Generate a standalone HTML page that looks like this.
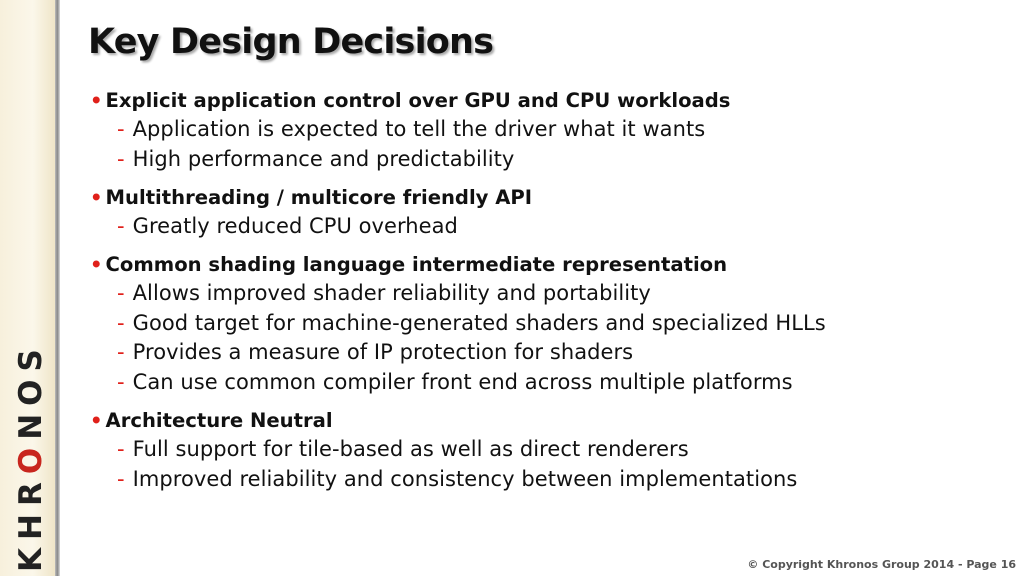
<!DOCTYPE html>
<html><head><style>
body{margin:0;width:1024px;height:576px;overflow:hidden;background:#fff;position:relative;font-family:"DejaVu Sans","Liberation Sans",sans-serif;}
#bar{position:absolute;left:0;top:0;width:55px;height:576px;background:linear-gradient(90deg,#f7f0dc,#fbf7ea 60%,#efe5c8);}
#edge{position:absolute;left:55px;top:0;width:5px;height:576px;background:linear-gradient(90deg,#bbb,#888,#ddd);}
#logo{position:absolute;left:-84px;top:437px;width:230px;height:40px;transform:rotate(-90deg);font-weight:bold;font-size:31px;color:#222;letter-spacing:8px;text-align:center;line-height:40px;}
#logo .o{color:#c8261e;}
h1{position:absolute;left:88px;top:22px;margin:0;font-size:35px;font-weight:bold;color:#111;letter-spacing:-0.8px;text-shadow:2px 2px 2px #aaa;}
.l{position:absolute;color:#111;white-space:nowrap;}
.b{left:90px;font-weight:bold;font-size:19.6px;}
.b:before{content:"•";color:#e0201a;margin-right:3px;}
.s{left:117px;font-size:21px;letter-spacing:0.05px;}
.s:before{content:"-";color:#e0201a;margin-right:8px;}
#c{position:absolute;right:8px;top:558px;font-size:11px;color:#555;font-weight:bold;}
</style></head><body>
<div id="bar"></div><div id="edge"></div>
<div id="logo">KHR<span class="o">O</span>NOS</div>
<h1>Key Design Decisions</h1>
<div class="l b" style="top:89px">Explicit application control over GPU and CPU workloads</div>
<div class="l s" style="top:117px">Application is expected to tell the driver what it wants</div>
<div class="l s" style="top:147px">High performance and predictability</div>
<div class="l b" style="top:186px">Multithreading / multicore friendly API</div>
<div class="l s" style="top:214px">Greatly reduced CPU overhead</div>
<div class="l b" style="top:253px">Common shading language intermediate representation</div>
<div class="l s" style="top:281px">Allows improved shader reliability and portability</div>
<div class="l s" style="top:311px">Good target for machine-generated shaders and specialized HLLs</div>
<div class="l s" style="top:340px">Provides a measure of IP protection for shaders</div>
<div class="l s" style="top:370px">Can use common compiler front end across multiple platforms</div>
<div class="l b" style="top:409px">Architecture Neutral</div>
<div class="l s" style="top:437px">Full support for tile-based as well as direct renderers</div>
<div class="l s" style="top:467px">Improved reliability and consistency between implementations</div>
<div id="c">© Copyright Khronos Group 2014 - Page 16</div>
</body></html>
